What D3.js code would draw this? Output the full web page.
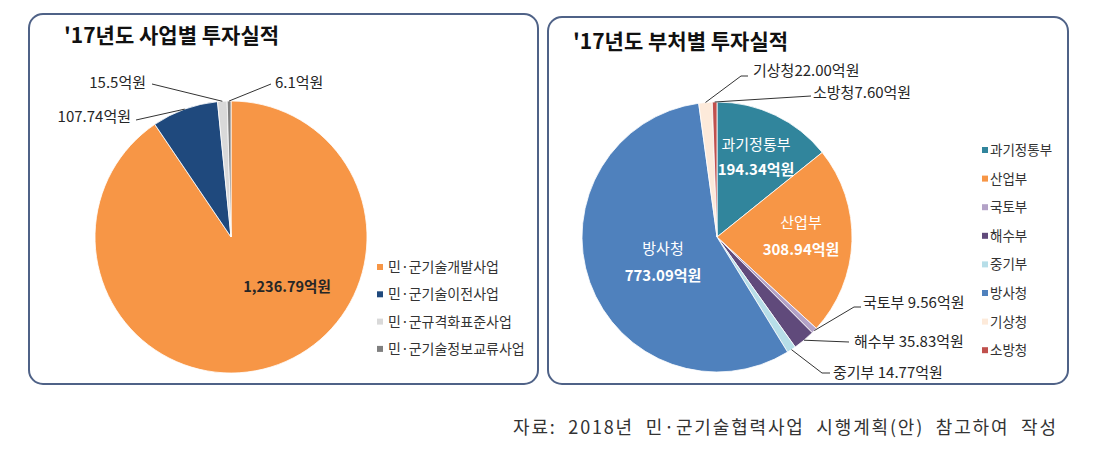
<!DOCTYPE html>
<html><head><meta charset="utf-8">
<script src="https://cdn.jsdelivr.net/npm/d3@7/dist/d3.min.js"></script>
<style>
body{margin:0;background:#fff;}
text{font-family:"Noto Sans CJK KR","Noto Sans",sans-serif;}
</style></head>
<body><svg id="c" width="1093" height="456"></svg>
<script>
// Left chart: by program
const progNames = ["민·군기술개발사업","민·군기술이전사업","민·군규격화표준사업","민·군기술정보교류사업"];
const progValues = [1236.79, 107.74, 15.5, 6.1];
const progLabels = ["1,236.79억원","107.74억원","15.5억원","6.1억원"];
const progColors = ["#F79646","#1F497D","#D9D9D9","#7F7F7F"];

// Right chart: by ministry
const minNames = ["과기정통부","산업부","국토부","해수부","중기부","방사청","기상청","소방청"];
const minValues = [194.34, 308.94, 9.56, 35.83, 14.77, 773.09, 22.00, 7.60];
const minLabels = ["194.34억원","308.94억원","9.56억원","35.83억원","14.77억원","773.09억원","22.00억원","7.60억원"];
const minColors = ["#31859C","#F79646","#B3A2C7","#604A7B","#B7DEE8","#4F81BD","#FDEADA","#C0504D"];

const titles = ["'17년도 사업별 투자실적","'17년도 부처별 투자실적"];
const sourceText = "자료:  2018년  민·군기술협력사업  시행계획(안)  참고하여  작성";

const svg = d3.select("#c");
const pie = d3.pie().sort(null).value(d=>d);

// panels
[[29,14,509,370],[548,17,520,367]].forEach(p=>{
  svg.append("rect").attr("x",p[0]).attr("y",p[1]).attr("width",p[2]).attr("height",p[3])
    .attr("rx",14).attr("fill","#fff").attr("stroke","#4F6287").attr("stroke-width",2);
});
svg.append("text").attr("x",64).attr("y",43).attr("font-size",21).attr("font-weight",700).attr("fill","#111").text(titles[0]);
svg.append("text").attr("x",573).attr("y",49).attr("font-size",21).attr("font-weight",700).attr("fill","#111").text(titles[1]);

function drawPie(cx, cy, r, values, colors){
  const g = svg.append("g").attr("transform",`translate(${cx},${cy})`);
  const arcs = pie(values);
  const arc = d3.arc().innerRadius(0).outerRadius(r);
  g.selectAll("path").data(arcs).join("path").attr("d",arc)
    .attr("fill",(d,i)=>colors[i]).attr("stroke","#fff").attr("stroke-width",0.8);
  return arcs;
}
function edgePt(c,a){ return [c.cx+Math.sin(a)*c.r, c.cy-Math.cos(a)*c.r]; }
function leader(c, arcD, pts){
  const a = (arcD.startAngle+arcD.endAngle)/2;
  svg.append("path").attr("d",d3.line()([edgePt(c,a)].concat(pts)))
    .attr("fill","none").attr("stroke","#333").attr("stroke-width",1);
}

// Left pie
const L = {cx:231, cy:237, r:136};
const lArcs = drawPie(L.cx,L.cy,L.r,progValues,progColors);
svg.append("text").attr("x",287).attr("y",292).attr("text-anchor","middle").attr("font-size",14.5)
  .attr("font-weight",700).attr("fill","#262626").text(progLabels[0]);
const lLead = [
  {i:1, tx:131, ty:122, anchor:"end", pts:[[136,120]]},
  {i:2, tx:146, ty:88, anchor:"end", pts:[[152,84]]},
  {i:3, tx:275, ty:88, anchor:"start", pts:[[271,84]]}
];
lLead.forEach(o=>{
  leader(L, lArcs[o.i], o.pts);
  svg.append("text").attr("x",o.tx).attr("y",o.ty).attr("text-anchor",o.anchor).attr("font-size",15).attr("fill","#262626").text(progLabels[o.i]);
});
progNames.forEach((n,i)=>{
  const y = 267 + i*27.3;
  svg.append("rect").attr("x",377).attr("y",y-3).attr("width",6).attr("height",6).attr("fill",progColors[i]);
  svg.append("text").attr("x",388).attr("y",y+5).attr("font-size",14).attr("fill","#333").text(n);
});

// Right pie
const R = {cx:717, cy:237, r:135};
const rArcs = drawPie(R.cx,R.cy,R.r,minValues,minColors);
const inner = [
  {i:0, x:756, y1:150, y2:175},
  {i:1, x:801, y1:228, y2:255},
  {i:5, x:663, y1:254, y2:281}
];
inner.forEach(o=>{
  svg.append("text").attr("x",o.x).attr("y",o.y1).attr("text-anchor","middle").attr("font-size",15).attr("fill","#fff").text(minNames[o.i]);
  svg.append("text").attr("x",o.x).attr("y",o.y2).attr("text-anchor","middle").attr("font-size",15).attr("font-weight",700).attr("fill","#fff").text(minLabels[o.i]);
});
const rLead = [
  {i:6, tx:753, ty:76, pts:[[741,76],[748,76]], sep:""},
  {i:7, tx:813, ty:98, pts:[[811,96]], sep:""},
  {i:2, tx:863, ty:308, pts:[[854,307],[861,307]], sep:" "},
  {i:3, tx:854, ty:347, pts:[[849,342]], sep:" "},
  {i:4, tx:833, ty:378, pts:[[822,373],[830,373]], sep:" "}
];
rLead.forEach(o=>{
  leader(R, rArcs[o.i], o.pts);
  svg.append("text").attr("x",o.tx).attr("y",o.ty).attr("font-size",15).attr("fill","#262626").text(minNames[o.i]+o.sep+minLabels[o.i]);
});
minNames.forEach((n,i)=>{
  const y = 150 + i*28.6;
  svg.append("rect").attr("x",982).attr("y",y-3).attr("width",6).attr("height",6).attr("fill",minColors[i]);
  svg.append("text").attr("x",990).attr("y",y+5).attr("font-size",13.5).attr("fill","#333").text(n);
});

// source
svg.append("text").attr("x",513).attr("y",434).attr("font-size",18).attr("fill","#333")
  .attr("textLength",543).attr("lengthAdjust","spacing")
  .style("white-space","pre").text(sourceText);
</script>
</body></html>
